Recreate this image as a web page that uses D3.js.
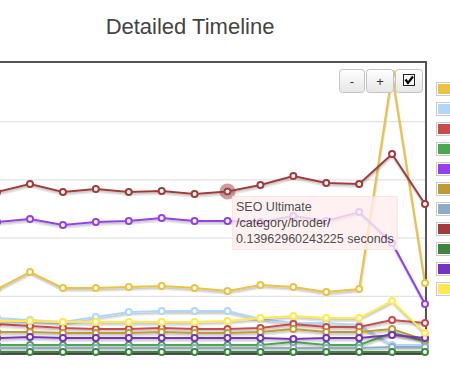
<!DOCTYPE html>
<html>
<head>
<meta charset="utf-8">
<script src="https://cdn.jsdelivr.net/npm/d3@7/dist/d3.min.js"></script>
<style>
  body { margin: 0; background: #fff; }
  svg { display: block; font-family: "Liberation Sans", Arial, sans-serif; }
</style>
</head>
<body>
<svg id="chart" width="450" height="378"></svg>
<script>
// point index along the timeline (x labels are off the visible area)
const points = [0, 1, 2, 3, 4, 5, 6, 7, 8, 9, 10, 11, 12, 13];
const yTicks = [0, 0.05, 0.1, 0.15, 0.2, 0.25];

// flot default palette + generated variations
const seriesColors = ['#edc240', '#afd8f8', '#cb4b4b', '#4da74d', '#9440ed', '#be9b33',
  '#8cadc6', '#a23c3c', '#3e863e', '#7633be', '#ffe94d'];

// seconds per point, one array per series
const gold      = [0.0558, 0.0704, 0.0567, 0.0567, 0.0576, 0.0584, 0.0567, 0.0541, 0.0593, 0.0576, 0.0533, 0.0558, 0.2405, 0.061];
const lightBlue = [0.0309, 0.0292, 0.0275, 0.0318, 0.0361, 0.0369, 0.0369, 0.0369, 0.0301, 0.0266, 0.0266, 0.0249, 0.0077, 0.0077];
const red       = [0.0258, 0.0241, 0.0223, 0.0215, 0.0215, 0.0223, 0.0215, 0.0215, 0.0223, 0.0258, 0.0232, 0.0232, 0.0292, 0.0266];
const green     = [0.0077, 0.0077, 0.0077, 0.0077, 0.0077, 0.0077, 0.0077, 0.0077, 0.0077, 0.0103, 0.0077, 0.0077, 0.018, 0.0112];
const purple    = [0.1134, 0.116, 0.1108, 0.1134, 0.1143, 0.1168, 0.1143, 0.1143, 0.1134, 0.1186, 0.1143, 0.122, 0.0954, 0.043];
const olive     = [0.0189, 0.0189, 0.018, 0.018, 0.018, 0.0189, 0.018, 0.018, 0.0189, 0.0215, 0.0189, 0.0189, 0.0215, 0.012];
const steelBlue = [0.0052, 0.0052, 0.0052, 0.0052, 0.0052, 0.0052, 0.0052, 0.0052, 0.0052, 0.0052, 0.0052, 0.0052, 0.006, 0.006];
const darkRed   = [0.1392, 0.146, 0.1392, 0.1418, 0.1392, 0.14, 0.1375, 0.13962960243225, 0.1452, 0.1529, 0.1469, 0.146, 0.1718, 0.1289];
const darkGreen = [0.0017, 0.0017, 0.0017, 0.0017, 0.0017, 0.0017, 0.0017, 0.0017, 0.0017, 0.0017, 0.0017, 0.0017, 0.0017, 0.0017];
const darkPurple= [0.0137, 0.0146, 0.0137, 0.0137, 0.0137, 0.0137, 0.0137, 0.0137, 0.0137, 0.0129, 0.0137, 0.0137, 0.0163, 0.0137];
const yellow    = [0.0284, 0.0284, 0.0275, 0.0275, 0.0275, 0.0275, 0.0275, 0.0284, 0.0309, 0.0326, 0.0309, 0.0309, 0.0455, 0.018];

const allSeries = [gold, lightBlue, red, green, purple, olive, steelBlue, darkRed, darkGreen, darkPurple, yellow];

// hovered point
const hoverSeries = 7;
const hoverIndex = 7;
const hoverLines = ['SEO Ultimate', '/category/broder/', darkRed[hoverIndex] + ' seconds'];

const svg = d3.select('#chart');

const plot = {left: -40, right: 425, top: 63, bottom: 354};

const x = d3.scaleLinear().domain([0, 13]).range([-2.9, plot.right]);
const y = d3.scaleLinear().domain([0, 0.25]).range([plot.bottom, plot.top]);

// title
svg.append('text')
    .attr('x', 190).attr('y', 34)
    .attr('text-anchor', 'middle')
    .attr('font-size', 22)
    .attr('fill', '#444')
    .text('Detailed Timeline');

// grid
const yAxis = d3.axisLeft(y)
    .tickValues(yTicks.slice(1, -1))
    .tickSize(-(plot.right - plot.left))
    .tickFormat('');
const grid = svg.append('g')
    .attr('class', 'grid')
    .attr('transform', 'translate(' + plot.left + ',0)')
    .call(yAxis);
grid.select('.domain').remove();
grid.selectAll('.tick line').attr('stroke', '#dcdcdc');

// border
svg.append('rect')
    .attr('x', plot.left).attr('y', plot.top - 1)
    .attr('width', plot.right - plot.left + 1).attr('height', plot.bottom - plot.top + 1)
    .attr('fill', 'none')
    .attr('stroke', '#545454')
    .attr('stroke-width', 2);

svg.append('clipPath').attr('id', 'plotClip')
  .append('rect')
    .attr('x', plot.left).attr('y', plot.top)
    .attr('width', plot.right - plot.left).attr('height', plot.bottom - plot.top);

const line = d3.line()
    .x((d, i) => x(points[i]))
    .y(d => y(d));

const ang = Math.PI / 18;
const seriesG = svg.append('g');
allSeries.forEach((vals, s) => {
  const g = seriesG.append('g');
  const lg = g.append('g').attr('clip-path', 'url(#plotClip)');
  // flot style shadow
  lg.append('path')
      .attr('d', line(vals))
      .attr('transform', 'translate(' + Math.sin(ang) * 2.5 + ',' + Math.cos(ang) * 2.5 + ')')
      .attr('fill', 'none').attr('stroke', 'rgba(0,0,0,0.1)').attr('stroke-width', 3);
  lg.append('path')
      .attr('d', line(vals))
      .attr('transform', 'translate(' + Math.sin(ang) * 1.75 + ',' + Math.cos(ang) * 1.75 + ')')
      .attr('fill', 'none').attr('stroke', 'rgba(0,0,0,0.1)').attr('stroke-width', 1.5);
  lg.append('path')
      .attr('d', line(vals))
      .attr('fill', 'none')
      .attr('stroke', seriesColors[s])
      .attr('stroke-width', 2);
  g.selectAll('circle')
      .data(vals)
      .enter()
      .append('circle')
      .attr('cx', (d, i) => x(points[i]))
      .attr('cy', d => y(d))
      .attr('r', 3)
      .attr('fill', '#fff')
      .attr('stroke', seriesColors[s])
      .attr('stroke-width', 2);
});

// highlight of hovered point
svg.append('circle')
    .attr('cx', x(points[hoverIndex]))
    .attr('cy', y(allSeries[hoverSeries][hoverIndex]))
    .attr('r', 6)
    .attr('fill', 'none')
    .attr('stroke', d3.color(seriesColors[hoverSeries]).copy({opacity: 0.5}))
    .attr('stroke-width', 4);

// legend swatches (labels fall outside the window)
const legend = svg.append('g');
seriesColors.forEach((c, i) => {
  const ly = 82 + i * 20;
  legend.append('rect')
      .attr('x', 436.5).attr('y', ly + 0.5)
      .attr('width', 17).attr('height', 13)
      .attr('fill', '#fff').attr('stroke', '#ccc');
  legend.append('rect')
      .attr('x', 438).attr('y', ly + 2)
      .attr('width', 14).attr('height', 10)
      .attr('fill', c);
});

// zoom buttons
const defs = svg.append('defs');
const grad = defs.append('linearGradient').attr('id', 'btnGrad')
    .attr('x1', 0).attr('y1', 0).attr('x2', 0).attr('y2', 1);
grad.append('stop').attr('offset', '0%').attr('stop-color', '#ffffff');
grad.append('stop').attr('offset', '100%').attr('stop-color', '#e6e6e6');

const buttons = [{x: 339, w: 25, label: '-'}, {x: 366, w: 27, label: '+'}, {x: 395, w: 27, label: ''}];
buttons.forEach(b => {
  svg.append('rect')
      .attr('x', b.x + 0.5).attr('y', 69.5)
      .attr('width', b.w).attr('height', 23)
      .attr('rx', 3)
      .attr('fill', 'url(#btnGrad)')
      .attr('stroke', '#c4c4c4');
  if (b.label) {
    svg.append('text')
        .attr('x', b.x + b.w / 2 + 0.5).attr('y', 86)
        .attr('text-anchor', 'middle')
        .attr('font-size', 13)
        .attr('fill', '#333')
        .text(b.label);
  }
});
// checkbox glyph
svg.append('rect')
    .attr('x', 403.5).attr('y', 74.5)
    .attr('width', 11).attr('height', 11)
    .attr('fill', '#f4f4f4').attr('stroke', '#222');
svg.append('path')
    .attr('d', 'M405.5,79.5 L408,83 L413,76.5')
    .attr('fill', 'none').attr('stroke', '#000').attr('stroke-width', 2.2);

// tooltip
const tip = svg.append('g').attr('opacity', 0.8);
const tipBox = tip.append('rect')
    .attr('x', 232.5).attr('y', 196.5)
    .attr('fill', '#fee').attr('stroke', '#fdd');
const tipText = tip.append('text')
    .attr('font-size', 12.5)
    .attr('fill', '#222');
hoverLines.forEach((t, i) => {
  tipText.append('tspan')
      .attr('x', 236).attr('y', 210.5 + i * 16)
      .text(t);
});
const tb = tipText.node().getBBox();
tipBox.attr('width', tb.width + 7).attr('height', 53);
</script>
</body>
</html>
